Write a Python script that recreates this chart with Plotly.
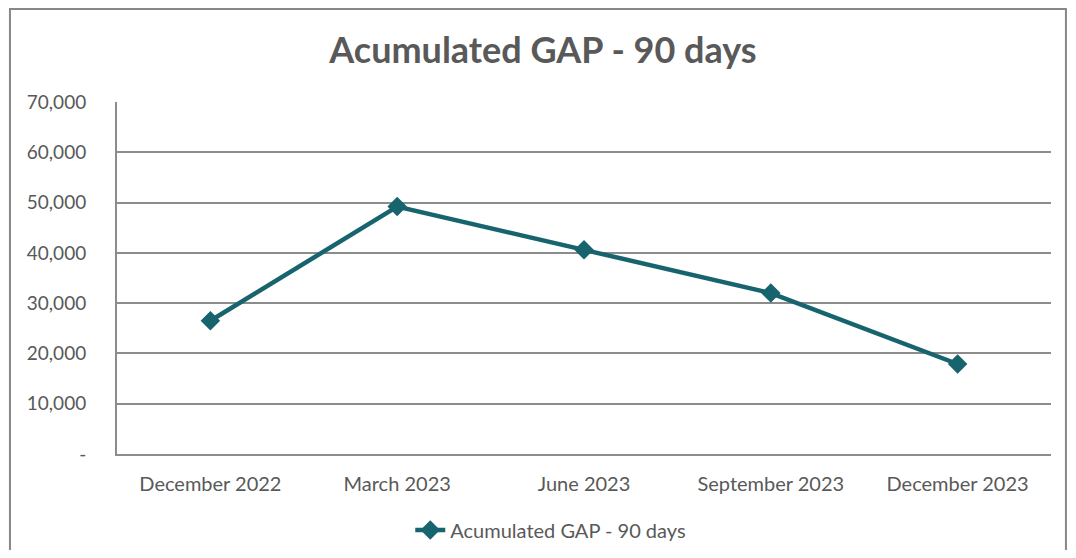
import plotly.graph_objects as go

categories = ["December 2022", "March 2023", "June 2023", "September 2023", "December 2023"]
values = [26500, 49200, 40600, 32000, 17900]
series_name = "Acumulated GAP - 90 days"
y_tickvals = [0, 10000, 20000, 30000, 40000, 50000, 60000, 70000]
y_ticktext = ["-", "10,000", "20,000", "30,000", "40,000", "50,000", "60,000", "70,000"]

line_color = "#17646e"
text_color = "#595959"
grid_color = "#8c8c8c"
font_family = "Lato, 'Open Sans', sans-serif"

fig = go.Figure()
fig.add_trace(go.Scatter(
    x=categories, y=values, name=series_name, mode="lines+markers",
    line=dict(color=line_color, width=4.5),
    marker=dict(symbol="diamond", size=15, color=line_color),
    showlegend=True,
))

fig.update_layout(
    width=1060, height=542,
    margin=dict(l=109, r=17, t=94, b=96, autoexpand=False),
    paper_bgcolor="white", plot_bgcolor="white",
    font=dict(family=font_family, color=text_color, size=20),
    title=dict(text="<b>" + series_name + "</b>", x=0.5047, xanchor="center",
               y=0.9225, yanchor="middle",
               font=dict(size=36, color=text_color, family=font_family)),
    legend=dict(orientation="h", x=0.314, xanchor="left", y=-0.216, yanchor="middle",
                font=dict(size=20, color=text_color)),
    xaxis=dict(type="category", range=[-0.5, 4.5], showgrid=False,
               showline=True, linecolor=grid_color, linewidth=2, automargin=False,
               ticks="", ticklabelstandoff=11, tickfont=dict(size=20, color=text_color)),
    yaxis=dict(range=[0, 70000], tickvals=y_tickvals, ticktext=y_ticktext,
               showgrid=True, gridcolor=grid_color, gridwidth=2,
               showline=True, linecolor=grid_color, linewidth=2, automargin=False,
               zeroline=False, ticks="", ticklabelstandoff=25,
               tickfont=dict(size=19, color=text_color)),
    shapes=[dict(type="rect", xref="paper", yref="paper",
                 x0=-0.1146, x1=1.0160, y0=-0.5, y1=1.264,
                 line=dict(color="#878787", width=2), fillcolor="rgba(0,0,0,0)", layer="below")],
)

fig.write_html("out.html")
